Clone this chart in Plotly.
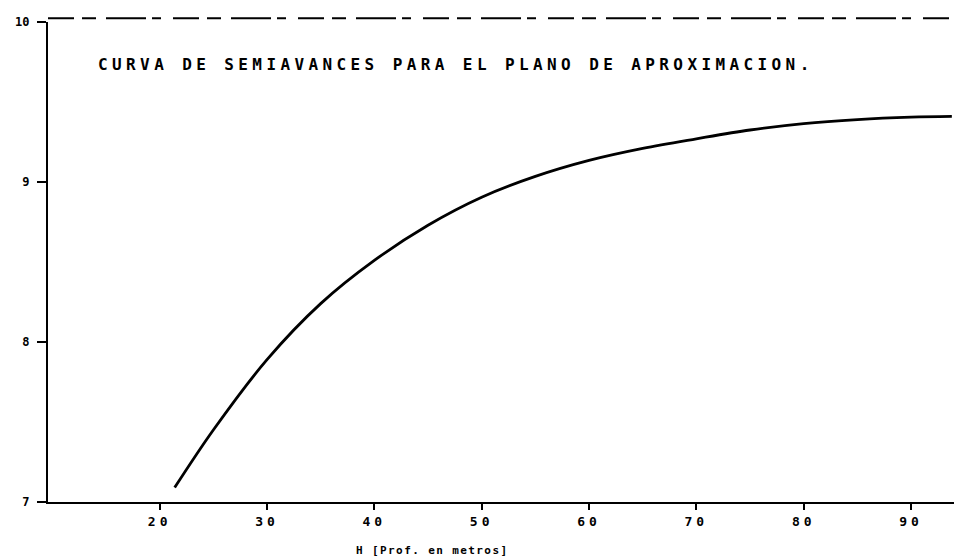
import plotly.graph_objects as go

# Semi-advance curve for the approach plane
depth_m = [21.4, 25, 30, 35, 40, 45, 50, 55, 60, 65, 70, 75, 80, 85, 90, 93.8]
semiavance = [7.09, 7.45, 7.89, 8.24, 8.51, 8.73, 8.905, 9.035, 9.135, 9.21,
              9.27, 9.325, 9.365, 9.39, 9.405, 9.41]

x_ticks = [20, 30, 40, 50, 60, 70, 80, 90]
y_ticks = [7, 8, 9, 10]

title_text = "CURVA DE SEMIAVANCES PARA EL PLANO DE APROXIMACION."
x_label = "H [Prof. en metros]"

FONT = "DejaVu Sans Mono"

fig = go.Figure()
fig.add_trace(go.Scatter(
    x=depth_m, y=semiavance, mode="lines",
    line=dict(color="black", width=2.8, shape="spline", smoothing=1.0),
    hoverinfo="skip", showlegend=False,
))

spaced = lambda s, sp: f'<span style="letter-spacing:{sp}px">{s}</span>'

fig.update_layout(
    width=961, height=558,
    margin=dict(l=48, r=7, t=22, b=56),
    paper_bgcolor="white", plot_bgcolor="white",
    showlegend=False,
    xaxis=dict(
        range=[9.6, 94.0], showgrid=False, zeroline=False,
        showline=True, linecolor="black", linewidth=2.4,
        ticks="outside", ticklen=6, tickwidth=2, tickcolor="black",
        tickvals=x_ticks, ticktext=[spaced(str(v), 4) for v in x_ticks],
        tickfont=dict(family=FONT, size=13, color="black", weight="bold"),
    ),
    yaxis=dict(
        range=[7, 10], showgrid=False, zeroline=False,
        showline=True, linecolor="black", linewidth=2.4,
        ticks="outside", ticklen=9, tickwidth=1.5, tickcolor="black",
        ticklabelstandoff=5,
        tickvals=y_ticks, ticktext=[str(v) for v in y_ticks],
        tickfont=dict(family=FONT, size=12, color="black", weight="bold"),
    ),
)

# broken upper frame line
fig.add_shape(type="line", xref="paper", yref="paper", x0=0, x1=1, y0=1.008, y1=1.008,
              line=dict(color="black", width=2, dash="26px,8px,14px,10px,40px,6px,9px,12px"))

fig.add_annotation(
    text=spaced(title_text, 4.4), xref="paper", yref="paper",
    x=0.45, y=0.9125, showarrow=False, xanchor="center", yanchor="middle",
    font=dict(family=FONT, size=16, color="black", weight="bold"),
)
fig.add_annotation(
    text=spaced(x_label, 1.4), xref="paper", yref="paper",
    x=0.424, y=-0.1, showarrow=False, xanchor="center", yanchor="middle",
    font=dict(family=FONT, size=11, color="black", weight="bold"),
)

fig.write_html("out.html")
